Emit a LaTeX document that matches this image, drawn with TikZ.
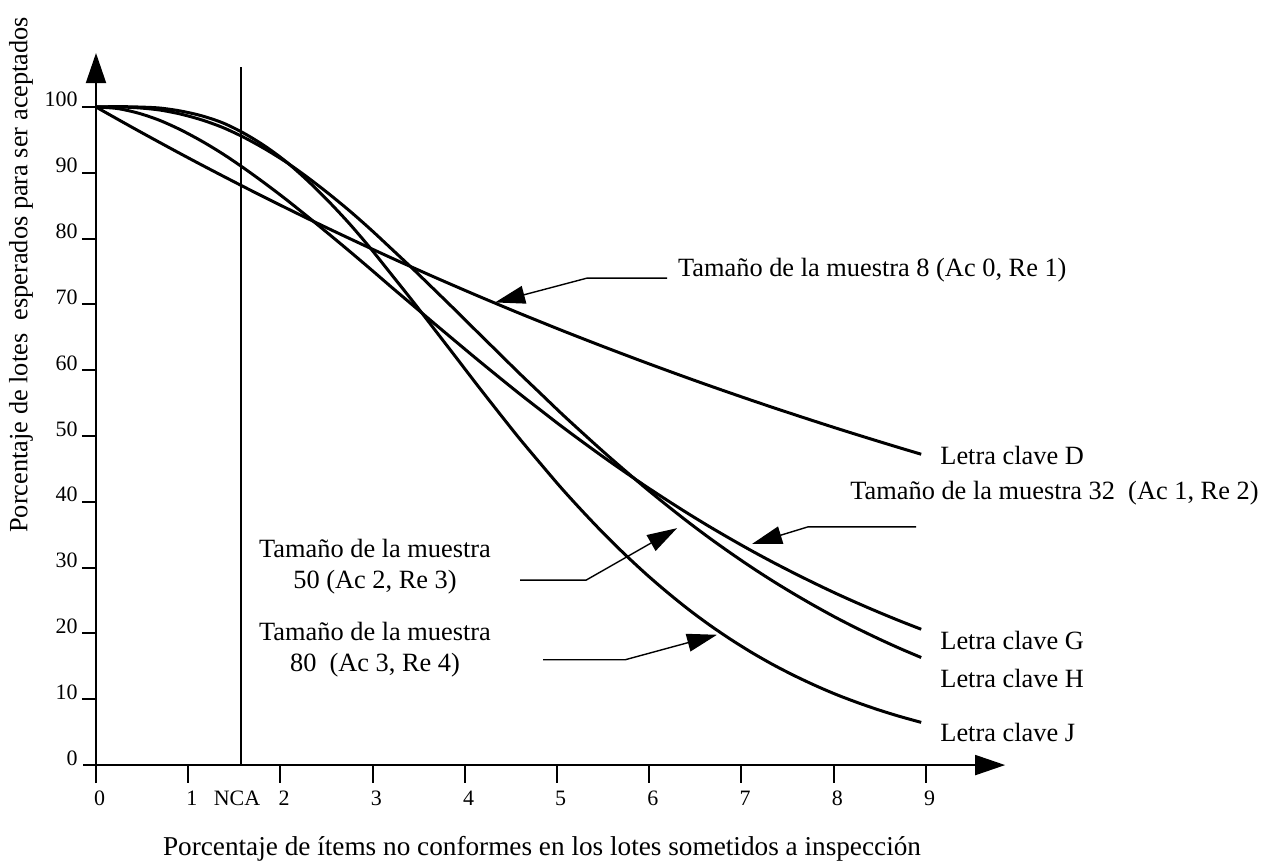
\documentclass[tikz,border=0pt]{standalone}
\usepackage{fontspec}
\setmainfont{Liberation Serif}
\usetikzlibrary{arrows.meta}

\tikzset{
  axis/.style={line width=1.1pt},
  curve/.style={line width=1.7pt},
  leader/.style={line width=0.8pt,-{Triangle[length=0.6cm,width=0.36cm]}},
  lbl/.style={font=\fontsize{15}{17.5}\selectfont,inner sep=0pt},
  ticklbl/.style={font=\fontsize{12.5}{15}\selectfont,inner sep=0pt},
  % -ln(1-t/100), series form (pgfmath ln is too rough here)
  declare function={lq(\t)=(\t+\t*\t/200+\t*\t*\t/300/100+\t*\t*\t*\t/4000/1000)/100;},
}

\begin{document}
\begin{tikzpicture}[x=1.844cm,y=0.1316cm,>={Triangle[length=0.6cm,width=0.4cm]}]
 \useasboundingbox (-1.0412,-14.59) rectangle (12.635,116.26);

 % axes
 \coordinate (ybot) at (0,-2.74);
 \coordinate (ytop) at (0,108.2);
 \coordinate (xleft) at (-0.141,0);
 \coordinate (xright) at (9.86,0);
 \draw[axis,->] (ybot) -- (ytop);
 \draw[axis,->] (xleft) -- (xright);
 \foreach \i in {1,...,9} \draw[axis] (\i,0) -- (\i,-2.74);
 \foreach \i in {0,...,9} \node[ticklbl] (xl\i) at (\i+0.04,-5.0) {\i};
 \foreach \v in {10,20,...,100} \draw[axis] (-0.152,\v) -- (0,\v);
 \foreach \v in {0,10,...,100} \node[ticklbl,anchor=base east] (yl\v) at (-0.195,\v) {\v};

 % NCA
 \coordinate (ncabot) at (1.573,0);
 \coordinate (ncatop) at (1.573,106.1);
 \draw[line width=0.8pt] (ncabot) -- (ncatop);
 \node[ticklbl] (nca) at (1.53,-5.0) {NCA};

 % OC curves
 \draw[curve] plot[smooth,domain=0:8.95,samples=40] (\x,{exp(4.60517-8*lq(\x))});
 \draw[curve] plot[smooth,domain=0:8.95,samples=40] (\x,{exp(4.60517-31*lq(\x))*((1-\x/100)+0.32*\x)});
 \draw[curve] plot[smooth,domain=0:8.95,samples=40] (\x,{exp(4.60517-48*lq(\x))*((1-\x/100)^2+0.5*\x*(1-\x/100)+0.1225*\x*\x)});
 \draw[curve] plot[smooth,domain=0:8.95,samples=40] (\x,{exp(4.60517-77*lq(\x))*((1-\x/100)^3+0.8*\x*(1-\x/100)^2+0.316*\x*\x*(1-\x/100)+0.08216*\x*\x*\x)});

 % labels
 \node[lbl,anchor=west] (lbl8) at (6.31,75.2) {Tamaño de la muestra 8 (Ac 0, Re 1)};
 \node[lbl,anchor=west] (lblD) at (9.154,47.1) {Letra clave D};
 \node[lbl,anchor=west] (lbl32) at (8.178,41.3) {Tamaño de la muestra 32\ \ (Ac 1, Re 2)};
 \node[lbl,anchor=west] (lblG) at (9.154,19.0) {Letra clave G};
 \node[lbl,anchor=west] (lblH) at (9.154,13.2) {Letra clave H};
 \node[lbl,anchor=west] (lblJ) at (9.154,5.0) {Letra clave J};
 \node[lbl,align=center] (lbl50) at (3.026,30.1) {Tamaño de la muestra\\50 (Ac 2, Re 3)};
 \node[lbl,align=center] (lbl80) at (3.026,17.5) {Tamaño de la muestra\\80\ \ (Ac 3, Re 4)};

 \node[lbl,rotate=90] (ytitle) at (-0.813,74.5) {Porcentaje de lotes\ \ esperados para ser aceptados};
 \node[lbl,font=\fontsize{15.5}{18}\selectfont] (xtitle) at (4.837,-12.77) {Porcentaje de ítems no conformes en los lotes sometidos a inspección};

 % leaders
 \coordinate (s8) at (6.193,74.0);
 \coordinate (b8) at (5.326,74.0);
 \coordinate (t8) at (4.328,70.3);
 \draw[leader] (s8) -- (b8) -- (t8);
 \coordinate (s32) at (8.894,36.2);
 \coordinate (b32) at (7.722,36.2);
 \coordinate (t32) at (7.115,33.6);
 \draw[leader] (s32) -- (b32) -- (t32);
 \coordinate (s50) at (4.599,28.1);
 \coordinate (b50) at (5.315,28.1);
 \coordinate (t50) at (6.302,36.0);
 \draw[leader] (s50) -- (b50) -- (t50);
 \coordinate (s80) at (4.848,16.0);
 \coordinate (b80) at (5.738,16.0);
 \coordinate (t80) at (6.735,19.8);
 \draw[leader] (s80) -- (b80) -- (t80);
\end{tikzpicture}
\end{document}
